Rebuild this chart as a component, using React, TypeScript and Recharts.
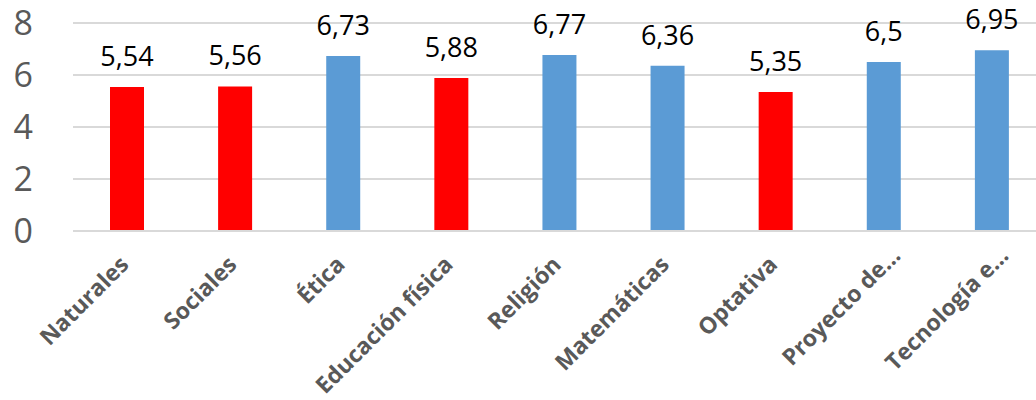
import { BarChart, Bar, XAxis, YAxis, CartesianGrid, Cell, LabelList } from "recharts";

const subjects = [
  "Naturales",
  "Sociales",
  "Ética",
  "Educación física",
  "Religión",
  "Matemáticas",
  "Optativa",
  "Proyecto de…",
  "Tecnología e…",
];
const scores = [5.54, 5.56, 6.73, 5.88, 6.77, 6.36, 5.35, 6.5, 6.95];
const yTicks = [0, 2, 4, 6, 8];

const data = subjects.map((name, i) => ({ name, value: scores[i] }));

const FONT = "'Open Sans', 'DejaVu Sans', sans-serif";
const GRAY = "#595959";

function SubjectTick({ x, y, payload }: any) {
  // truncated labels sit a little further right/up, like in the original
  const cut = String(payload.value).endsWith("…");
  const ax = x + (cut ? 18 : 3);
  const ay = y + (cut ? 18 : 27);
  return (
    <text
      x={ax}
      y={ay}
      transform={`rotate(-45 ${ax} ${ay})`}
      textAnchor="end"
      fill={GRAY}
      fontFamily={FONT}
      fontWeight="bold"
      fontSize={23}
    >
      {payload.value}
    </text>
  );
}

export default function App() {
  return (
    <div
      style={{
        position: "absolute",
        left: 0,
        top: 0,
        width: 1036,
        height: 400,
        overflow: "hidden",
        background: "#fff",
      }}
    >
      <BarChart
        width={1046}
        height={400}
        data={data}
        margin={{ top: 23, right: 0, left: 0, bottom: 0 }}
      >
        <CartesianGrid vertical={false} stroke="#d9d9d9" strokeWidth={2} />
        <XAxis
          dataKey="name"
          interval={0}
          height={169}
          tickLine={false}
          axisLine={{ stroke: "#d9d9d9", strokeWidth: 2 }}
          tick={<SubjectTick />}
        />
        <YAxis
          domain={[0, 8]}
          ticks={yTicks}
          width={73}
          axisLine={false}
          tickLine={false}
          tickSize={0}
          tickMargin={40}
          tick={{ fontSize: 34, fill: GRAY, fontFamily: FONT }}
        />
        <Bar dataKey="value" barSize={34} isAnimationActive={false}>
          {data.map((d) => (
            <Cell key={d.name} fill={d.value < 6 ? "#ff0000" : "#5b9bd5"} />
          ))}
          <LabelList
            dataKey="value"
            position="top"
            offset={21}
            fill="#000"
            fontSize={27}
            fontFamily={FONT}
            formatter={(v: any) => String(v).replace(".", ",")}
          />
        </Bar>
      </BarChart>
    </div>
  );
}
